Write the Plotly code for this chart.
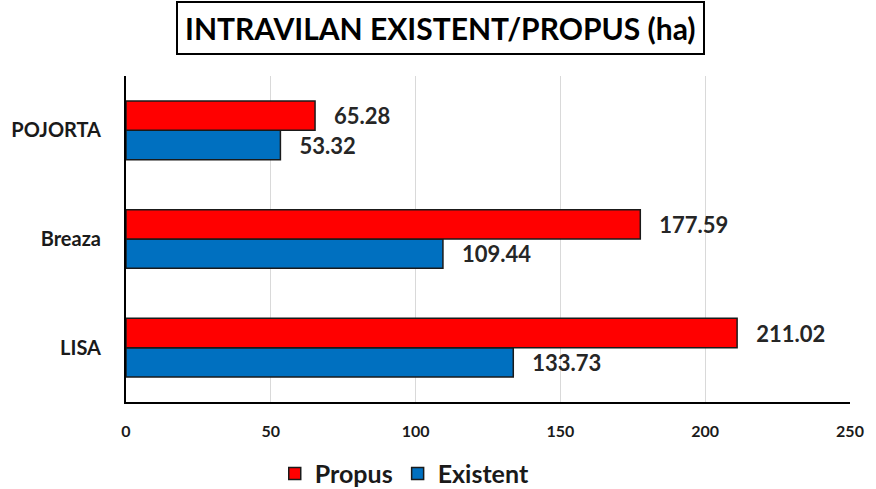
import plotly.graph_objects as go

categories = ["POJORTA", "Breaza", "LISA"]
propus = [65.28, 177.59, 211.02]
existent = [53.32, 109.44, 133.73]
x_ticks = [0, 50, 100, 150, 200, 250]
title_text = "INTRAVILAN EXISTENT/PROPUS (ha)"

FONT = "Lato"
nb = "\u00a0\u00a0\u00a0"

fig = go.Figure()
fig.add_trace(go.Bar(
    y=categories, x=existent, orientation="h", name="Existent",
    marker=dict(color="#0070C0", line=dict(color="#1a1a1a", width=1.5)),
    text=[f"{nb}{v:.2f}" for v in existent], textposition="outside",
    textfont=dict(family=FONT, size=22, color="#262626"),
    cliponaxis=False, legendrank=2,
))
fig.add_trace(go.Bar(
    y=categories, x=propus, orientation="h", name="Propus",
    marker=dict(color="#FF0000", line=dict(color="#1a1a1a", width=1.5)),
    text=[f"{nb}{v:.2f}" for v in propus], textposition="outside",
    textfont=dict(family=FONT, size=22, color="#262626"),
    cliponaxis=False, legendrank=1,
))

fig.update_layout(
    width=876, height=489,
    margin=dict(l=126, r=26, t=76, b=87, autoexpand=False),
    paper_bgcolor="white", plot_bgcolor="white",
    barmode="group", bargap=0.46, bargroupgap=0,
    font=dict(family=FONT, color="#262626"),
    showlegend=True,
    legend=dict(orientation="h", x=0.385, xanchor="center", y=-0.22, yanchor="middle",
                font=dict(family=FONT, size=25, color="#1a1a1a", weight="bold"),
                traceorder="normal"),
    annotations=[dict(
        text=f"<b>{title_text}</b>", xref="paper", yref="paper",
        x=0.434, y=1.147, xanchor="center", yanchor="middle", showarrow=False,
        font=dict(family=FONT, size=30, color="#000000"),
        bordercolor="#000000", borderwidth=2, borderpad=7, bgcolor="white",
    )],
)
fig.update_traces(textfont_weight="bold")
fig.update_xaxes(
    range=[0, 250], tickvals=x_ticks, showgrid=True, gridcolor="#d9d9d9", gridwidth=1,
    zeroline=False, showline=True, linecolor="#000000", linewidth=2,
    tickfont=dict(family=FONT, size=16, color="#1a1a1a", weight="bold"),
    ticks="", ticklabelstandoff=14,
)
fig.update_yaxes(
    categoryorder="array", categoryarray=categories[::-1],
    showline=True, linecolor="#000000", linewidth=2, showgrid=False,
    tickfont=dict(family=FONT, size=20, color="#1a1a1a", weight="bold"),
    ticks="", ticklabelstandoff=19,
)

fig.write_html("out.html", config={"displayModeBar": False},
               post_script="document.body.style.margin='0';document.body.style.overflow='hidden';")
